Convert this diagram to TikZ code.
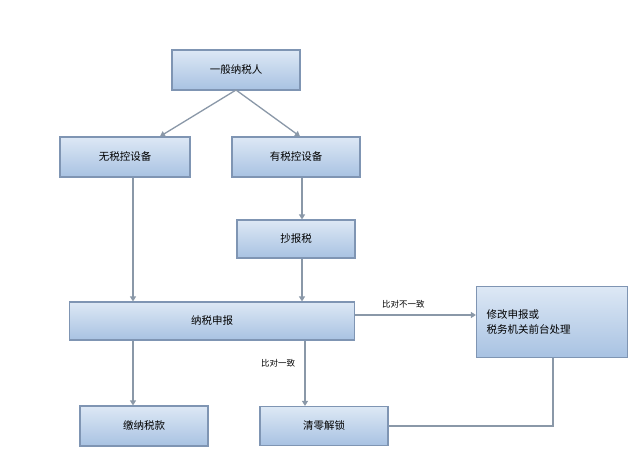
\documentclass[tikz,border=0pt]{standalone}
\usepackage{fontspec}
\newfontfamily\cjk{Noto Sans CJK SC}
\usetikzlibrary{arrows.meta}
\definecolor{bordc}{HTML}{7F95B3}
\definecolor{topc}{HTML}{DDE8F5}
\definecolor{botc}{HTML}{A8C2E2}
\definecolor{linec}{HTML}{8A98A8}
\tikzset{
  box/.style={draw=bordc, line width=1.2pt, top color=topc, bottom color=botc, font=\cjk\fontsize{10.5}{15}\selectfont, inner sep=0pt},
  conn/.style={draw=linec, line width=1.3pt, -{Triangle[width=6pt,length=5pt]}},
  plain/.style={draw=linec, line width=1.3pt},
  lab/.style={font=\cjk\fontsize{8.5}{10}\selectfont}
}
\begin{document}
\begin{tikzpicture}[x=1pt,y=-1pt]
\useasboundingbox[fill=white] (0,0) rectangle (640,473);
\node[box, minimum width=128pt, minimum height=40pt] (a) at (236,70) {一般纳税人};
\node[box, minimum width=130pt, minimum height=40pt] (b) at (125,157) {无税控设备};
\node[box, minimum width=128pt, minimum height=40pt] (c) at (296,157) {有税控设备};
\node[box, minimum width=118pt, minimum height=38pt] (d) at (296,239) {抄报税};
\node[box, minimum width=285pt, minimum height=38pt] (e) at (212,321) {纳税申报};
\node[box, minimum width=151pt, minimum height=71pt, align=left, text width=131pt] (f) at (552,322) {修改申报或\\税务机关前台处理};
\node[box, minimum width=128pt, minimum height=40pt] (g) at (144,426) {缴纳税款};
\node[box, minimum width=128pt, minimum height=39pt] (h) at (324,426) {清零解锁};
\coordinate (ab) at (236,90);
\draw[conn] (ab) -- (b.north -| 160,0);
\draw[conn] (ab) -- (c.north -| 300,0);
\draw[conn] (b.south -| 133,0) -- (e.north -| 133,0);
\draw[conn] (c.south -| 302,0) -- (d.north -| 302,0);
\draw[conn] (d.south -| 302,0) -- (e.north -| 302,0);
\draw[conn] (e.east |- 0,315) -- node[lab, above=3pt, pos=0.4]{比对不一致} (f.west |- 0,315);
\draw[conn] (e.south -| 133,0) -- (g.north -| 133,0);
\draw[conn] (e.south -| 305,0) -- node[lab, left=6pt, pos=0.35]{比对一致} (h.north -| 305,0);
\draw[plain] (f.south -| 553,0) |- (h.east);
\end{tikzpicture}
\end{document}
